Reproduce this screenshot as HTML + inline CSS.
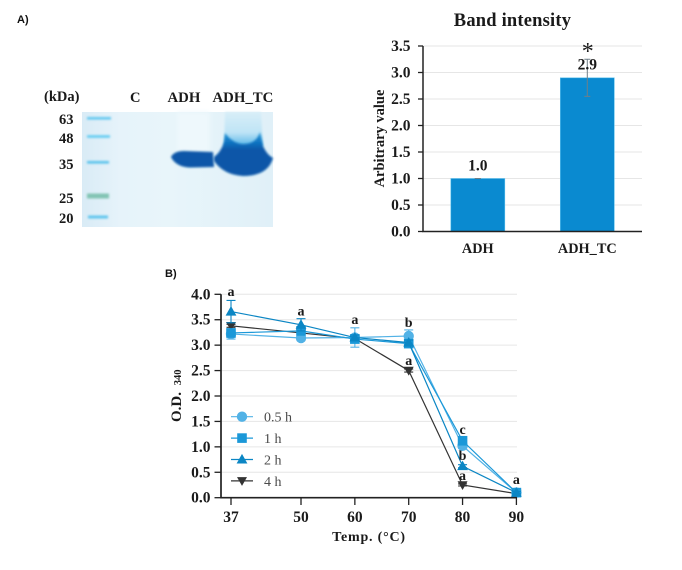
<!DOCTYPE html>
<html lang="en">
<head>
<meta charset="utf-8">
<title>Band intensity and temperature chart</title>
<style>
html,body{margin:0;padding:0;background:#fff;width:682px;height:570px;overflow:hidden}
svg{display:block;position:absolute;left:0;top:0;filter:blur(0.3px)}
text{font-family:"Liberation Serif",serif;font-weight:bold;fill:#1a1a1a}
.panel{font-family:"Liberation Sans",sans-serif;font-size:11px;fill:#111}
</style>
</head>
<body>
<svg id="fig" width="682" height="570" viewBox="0 0 682 570" xmlns="http://www.w3.org/2000/svg">
  <defs>
    <filter id="b1" x="-30%" y="-30%" width="160%" height="160%"><feGaussianBlur stdDeviation="1"/></filter>
    <filter id="b2" x="-30%" y="-30%" width="160%" height="160%"><feGaussianBlur stdDeviation="2.5"/></filter>
    <linearGradient id="bgGrad" x1="0" x2="1" y1="0" y2="0">
      <stop offset="0" stop-color="#d9ebf6"/><stop offset="0.2" stop-color="#e6f3fa"/>
      <stop offset="0.45" stop-color="#e8f5fa"/><stop offset="1" stop-color="#e0f0f8"/>
    </linearGradient>
    <linearGradient id="smear" x1="0" x2="0" y1="0" y2="1">
      <stop offset="0" stop-color="#d8eef8"/><stop offset="0.6" stop-color="#bfe4f6"/><stop offset="1" stop-color="#58b6e8"/>
    </linearGradient>
    <linearGradient id="tcBand" x1="0" x2="0" y1="0" y2="1">
      <stop offset="0" stop-color="#2a9ada"/><stop offset="0.25" stop-color="#0f72c0"/><stop offset="0.4" stop-color="#0757a8"/><stop offset="1" stop-color="#0757a8"/>
    </linearGradient>
  </defs>

  <text class="panel" x="17" y="23">A)</text>
  <text class="panel" x="165" y="277">B)</text>

  <g>
    <rect x="82" y="112" width="191" height="115" fill="url(#bgGrad)"/>
    <g filter="url(#b1)">
      <rect x="87" y="117" width="24" height="2.6" fill="#62c8f0"/>
      <rect x="87" y="135.2" width="23" height="2.6" fill="#62ccf2"/>
      <rect x="87" y="161" width="22" height="2.6" fill="#58c2ec"/>
      <rect x="87" y="193.5" width="22" height="5" fill="#82c4b4"/>
      <rect x="88" y="215.5" width="20" height="3" fill="#60c6ee"/>
    </g>
    <rect x="177" y="112" width="33" height="42" fill="#eef8fc" filter="url(#b2)"/>
    <path d="M171 157 Q174 151 184 151 L213 152 L214 167 L190 167.5 Q176 167 171 157Z" fill="#0757a8" filter="url(#b1)"/>
    <path d="M225 112H261L263 146H224Z" fill="url(#smear)" filter="url(#b1)"/>
    <path d="M214 157 Q221 152 224 142 L225 133 Q233 144 244 144 Q256 144 260 132 L263 146 Q267 155 273 158 Q268 176 243 176 Q224 175 214 161Z" fill="url(#tcBand)" filter="url(#b1)"/>
  </g>
  <g font-size="14.5">
    <text x="44" y="101" font-size="14.5">(kDa)</text>
    <text x="130" y="102" font-size="14.5">C</text>
    <text x="167.5" y="102" font-size="14.8">ADH</text>
    <text x="212.5" y="102" font-size="14.8">ADH_TC</text>
    <text x="59" y="124" font-size="14.5">63</text>
    <text x="59" y="143" font-size="14.5">48</text>
    <text x="59" y="169" font-size="14.5">35</text>
    <text x="59" y="203" font-size="14.5">25</text>
    <text x="59" y="223" font-size="14.5">20</text>
  </g>

  <g id="barChart"></g>
  <g id="lineChart"></g>
</svg>

<script>
const barCategories = ["ADH", "ADH_TC"];
const barValues = [1.0, 2.9];
const barErrors = [0.0, 0.35];
const barPrinted = ["1.0", "2.9"];
const barTicks = ["0.0", "0.5", "1.0", "1.5", "2.0", "2.5", "3.0", "3.5"];

const temperatures = [37, 50, 60, 70, 80, 90];
const seriesNames = ["0.5 h", "1 h", "2 h", "4 h"];
const halfHour = [3.22, 3.14, 3.15, 3.18, 1.02, 0.10];
const oneHour = [3.24, 3.28, 3.12, 3.03, 1.12, 0.10];
const twoHour = [3.66, 3.40, 3.15, 3.05, 0.62, 0.10];
const fourHour = [3.38, 3.24, 3.13, 2.50, 0.25, 0.08];
const halfHourErr = [0.10, 0.05, 0.19, 0.12, 0.05, 0.02];
const oneHourErr = [0.08, 0.08, 0.08, 0.05, 0.05, 0.02];
const twoHourErr = [0.22, 0.12, 0.05, 0.05, 0.03, 0.02];
const fourHourErr = [0.03, 0.03, 0.03, 0.03, 0.02, 0.01];
const lineTicks = ["0.0", "0.5", "1.0", "1.5", "2.0", "2.5", "3.0", "3.5", "4.0"];
const sigTemps = [37, 50, 60, 70, 70, 80, 80, 80, 90];
const sigLevels = [3.97, 3.58, 3.42, 3.36, 2.61, 1.25, 0.74, 0.35, 0.27];
const sigLetters = ["a", "a", "a", "b", "a", "c", "b", "a", "a"];

const NS = "http://www.w3.org/2000/svg";
function mk(parent, tag, attrs, txt) {
  const el = document.createElementNS(NS, tag);
  for (const k in attrs) el.setAttribute(k, attrs[k]);
  if (txt !== undefined) el.textContent = txt;
  parent.appendChild(el);
  return el;
}

/* ---------- bar chart ---------- */
const bar = document.getElementById("barChart");
const barY = v => 231.5 - v * 53;
const barX = i => 477.8 + i * 109.5;
barTicks.forEach(t => {
  const y = barY(parseFloat(t));
  if (parseFloat(t) > 0) {
    const g = mk(bar, "line", {x1: 423, x2: 642, y1: y, y2: y, stroke: "#e6e6e6", "stroke-width": 1});
    
    
  }
  const m = mk(bar, "line", {x1: 418, x2: 423, y1: y, y2: y, stroke: "#222", "stroke-width": 1.3});
  
  
  const l = mk(bar, "text", {x: 410.5, y: y + 5, "text-anchor": "end", "font-size": 15.5}, t);
  
  
});
barCategories.forEach((c, i) => {
  const x = barX(i), y = barY(barValues[i]);
  const r = mk(bar, "rect", {x: x - 27, y: y, width: 54, height: 231.5 - y, fill: "#0a8ad0", stroke: "#5cc0ee", "stroke-width": 0.6});
  
  
  const e = mk(bar, "line", {x1: x, x2: x, y1: barY(barValues[i] + barErrors[i]), y2: barY(barValues[i] - barErrors[i]), stroke: "#6f7f88", "stroke-width": 1});
  
  
  [1, -1].forEach(s => {
    const yc = barY(barValues[i] + s * barErrors[i]);
    const cap = mk(bar, "line", {x1: x - 3, x2: x + 3, y1: yc, y2: yc, stroke: "#6f7f88", "stroke-width": 1});
    
    
  });
  const p = mk(bar, "text", {x: x, y: barY(barValues[i] + barErrors[i]) + 10 - (i === 0 ? 18 : 0) , "text-anchor": "middle", "font-size": 15.5}, barPrinted[i]);
  
  
  const xl = mk(bar, "text", {x: x, y: 253, "text-anchor": "middle", "font-size": 14.3}, c);
  
  
});
const barAxis = mk(bar, "path", {d: "M423 46V231.5H642", fill: "none", stroke: "#222", "stroke-width": 1.5});


const star = mk(bar, "text", {x: 587.8, y: 59, "text-anchor": "middle", "font-size": 24, style: "font-weight:normal"}, "*");


const barTitle = mk(bar, "text", {x: 512.5, y: 26, "text-anchor": "middle", "font-size": 18.5, "letter-spacing": 0.2}, "Band intensity");


const barYTitle = mk(bar, "text", {transform: "translate(384,138.5) rotate(-90)", "text-anchor": "middle", "font-size": 14.5}, "Arbitrary value");



/* ---------- line chart ---------- */
const line = document.getElementById("lineChart");
const lx = t => 231 + (t - 37) * 5.385;
const ly = v => 497.7 - v * 50.85;
const palette = ["#52b2e6", "#1b98d8", "#0b86c4", "#333333"];
const shapes = ["circle", "square", "up", "down"];
const allSeries = [halfHour, oneHour, twoHour, fourHour];
const allErrors = [halfHourErr, oneHourErr, twoHourErr, fourHourErr];

function marker(parent, shape, x, y, color) {
  let el;
  if (shape === "circle") el = mk(parent, "circle", {cx: x, cy: y, r: 5.2, fill: color});
  if (shape === "square") el = mk(parent, "rect", {x: x - 4.8, y: y - 4.8, width: 9.6, height: 9.6, fill: color});
  if (shape === "up") el = mk(parent, "path", {d: `M${x} ${y - 5.6}L${x + 5.4} ${y + 4}H${x - 5.4}Z`, fill: color});
  if (shape === "down") el = mk(parent, "path", {d: `M${x} ${y + 5}L${x + 5} ${y - 3.8}H${x - 5}Z`, fill: color});
  
  
  return el;
}

lineTicks.forEach(t => {
  const y = ly(parseFloat(t));
  if (parseFloat(t) > 0) {
    const g = mk(line, "line", {x1: 221, x2: 517, y1: y, y2: y, stroke: "#e6e6e6", "stroke-width": 1});
    
    
  }
  const m = mk(line, "line", {x1: 214.5, x2: 221, y1: y, y2: y, stroke: "#222", "stroke-width": 1.3});
  
  
  const l = mk(line, "text", {x: 210.5, y: y + 5, "text-anchor": "end", "font-size": 15.5}, t);
  
  
});
temperatures.forEach(t => {
  const x = lx(t);
  const m = mk(line, "line", {x1: x, x2: x, y1: 497.7, y2: 505, stroke: "#222", "stroke-width": 1.3});
  
  
  const l = mk(line, "text", {x: x, y: 522, "text-anchor": "middle", "font-size": 15.5}, String(t));
  
  
});

[3, 0, 1, 2].forEach(s => {
  const g = mk(line, "g", {});
  
  
  const pts = allSeries[s].map((v, i) => lx(temperatures[i]) + "," + ly(v)).join(" ");
  const pl = mk(g, "polyline", {points: pts, fill: "none", stroke: palette[s], "stroke-width": 1.2});
  
  
  allSeries[s].forEach((v, i) => {
    const x = lx(temperatures[i]), er = allErrors[s][i];
    const hi = ly(v + er), lo = ly(v - er);
    const p = mk(g, "path", {d: `M${x} ${hi}V${lo}M${x - 4.5} ${hi}H${x + 4.5}M${x - 4.5} ${lo}H${x + 4.5}`, fill: "none", stroke: palette[s], "stroke-width": 1.1});
    
    
    marker(g, shapes[s], x, ly(v), palette[s]);
  });
});

const lineAxis = mk(line, "path", {d: "M221 294.3V497.7H517", fill: "none", stroke: "#222", "stroke-width": 1.7});



sigLetters.forEach((s, i) => {
  const l = mk(line, "text", {x: lx(sigTemps[i]), y: ly(sigLevels[i]), "text-anchor": "middle", "font-size": 14}, s);
  
  
});

const legendRowH = 21.4;
seriesNames.forEach((n, i) => {
  const y = 416.7 + i * legendRowH;
  const g = mk(line, "g", {});
  
  
  const ll = mk(g, "line", {x1: 231, x2: 253, y1: y, y2: y, stroke: palette[i], "stroke-width": 1.2});
  
  
  marker(g, shapes[i], 242, y, palette[i]);
  const t = mk(g, "text", {x: 264, y: y + 5, "font-size": 14, style: "font-weight:normal;fill:#4a4a4a"}, n);
  
  
});

const lineXTitle = mk(line, "text", {x: 369, y: 541, "text-anchor": "middle", "font-size": 14, "letter-spacing": 0.8}, "Temp. (°C)");


const lineYTitle = mk(line, "text", {transform: "translate(181,422) rotate(-90)", "font-size": 15}, "O.D. ");


const sub = mk(lineYTitle, "tspan", {"font-size": 10.5, dx: 3}, "340");


</script>
</body>
</html>
